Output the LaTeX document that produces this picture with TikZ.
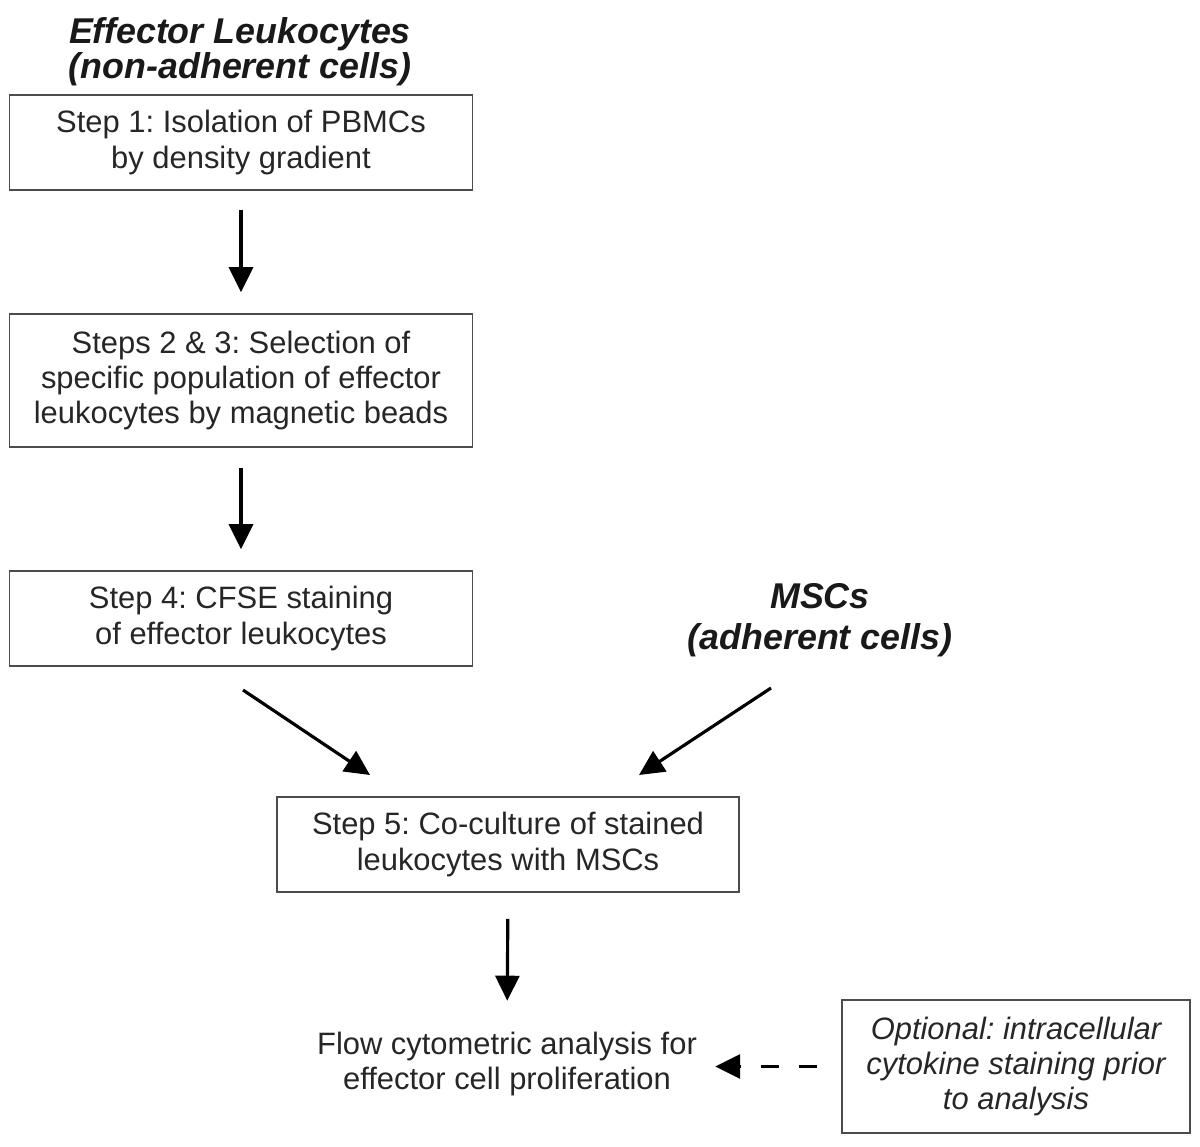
\documentclass[tikz,border=0pt]{standalone}
\usepackage{fontspec}
\setmainfont{Liberation Sans}
\usepackage{tikz}
\usetikzlibrary{arrows.meta}
\frenchspacing

\begin{document}
\begin{tikzpicture}[x=0.02cm, y=-0.02cm,
    every node/.style={text=black!85, font=\fontsize{17.6}{20}\selectfont},
    stepbox/.style={draw=black!70, line width=0.9pt, align=center, minimum width=9.26cm, minimum height=1.9cm, inner sep=0pt},
    heading/.style={align=center, text=black!90, font=\fontsize{20.4}{20}\selectfont\bfseries\itshape},
    arr/.style={line width=1.8pt, -{Triangle[length=0.5cm, width=0.48cm]}}]
        \useasboundingbox (0,0) rectangle (1200,1146);
        % left column: effector leukocytes
        \node[heading] (effector) at (240, 52) {Effector Leukocytes\\(non-adherent cells)};
        \node[stepbox] (s1) at (241, 142.5) {Step 1: Isolation of PBMCs\\by density gradient};
        \node[stepbox, minimum height=2.66cm] (s23) at (241, 380.5) {Steps 2 \& 3: Selection of\\specific population of effector\\leukocytes by magnetic beads};
        \node[stepbox] (s4) at (241, 618.5) {Step 4: CFSE staining\\of effector leukocytes};
        % right column: MSCs
        \node[heading, font=\fontsize{20.4}{23.3}\selectfont\bfseries\itshape] (msc) at (820, 620) {MSCs\\(adherent cells)};
        \node[stepbox, minimum width=9.24cm] (s5) at (508, 844.5) {Step 5: Co-culture of stained\\leukocytes with MSCs};
        \node[align=center, inner sep=0pt] (flow) at (507, 1064) {Flow cytometric analysis for\\effector cell proliferation};
        \node[stepbox, minimum width=6.96cm, minimum height=2.66cm, font=\fontsize{17.6}{20}\selectfont\itshape] (opt) at (1016, 1066.5) {Optional: intracellular\\cytokine staining prior\\to analysis};
        % arrows
        \coordinate (fromS4) at (243, 690);
        \coordinate (toS5a) at (370, 775);
        \coordinate (fromMSC) at (771, 688);
        \coordinate (toS5b) at (639, 775);
        \draw[arr, shorten <=0.38cm, shorten >=0.42cm] (s1.south) -- (s23.north);
        \draw[arr, shorten <=0.40cm, shorten >=0.42cm] (s23.south) -- (s4.north);
        \draw[arr] (fromS4) -- (toS5a);
        \draw[arr] (fromMSC) -- (toS5b);
        \draw[arr, shorten <=0.52cm, shorten >=0.62cm] (s5.south) -- (flow.north);
        \draw[arr, dash pattern=on 0.36cm off 0.4cm, shorten <=0.48cm, shorten >=0.36cm] (opt.west) -- (opt.west -| flow.east);
\end{tikzpicture}
\end{document}
